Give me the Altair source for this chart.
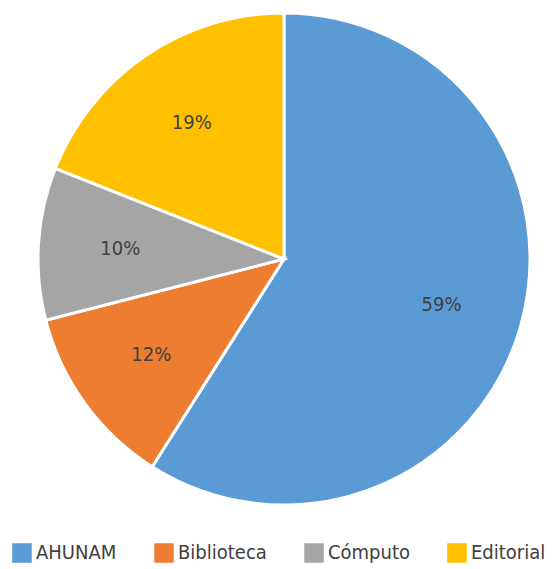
import altair as alt
import pandas as pd

categories = ["AHUNAM", "Biblioteca", "Cómputo", "Editorial"]
values = [59, 12, 10, 19]
labels = ["59%", "12%", "10%", "19%"]
colors = ["#5B9BD5", "#ED7D31", "#A5A5A5", "#FFC000"]

df = pd.DataFrame({"cat": categories, "val": values, "lab": labels,
                   "order": list(range(len(categories)))})

FONT = "DejaVu Sans Condensed, Roboto Condensed, sans-serif"

base = alt.Chart(df).encode(
    theta=alt.Theta("val:Q", stack=True),
    order=alt.Order("order:Q", sort="ascending"),
    x=alt.value(284),
    y=alt.value(259),
)

pie = base.mark_arc(outerRadius=246, stroke="white", strokeWidth=3).encode(
    color=alt.Color(
        "cat:N",
        scale=alt.Scale(domain=categories, range=colors),
        sort=categories,
        legend=alt.Legend(
            title=None,
            orient="none",
            direction="horizontal",
            legendX=12,
            legendY=543,
            symbolType="square",
            symbolSize=380,
            symbolStrokeWidth=0,
            symbolOpacity=1,
            labelFont=FONT,
            labelFontSize=20,
            labelColor="#404040",
            labelOffset=4,
            columnPadding=37,
            labelLimit=300,
        ),
    )
)

text = base.mark_text(radius=164, font=FONT, fontSize=20, color="#404040").encode(
    text="lab:N"
)

chart = (pie + text).properties(
    width=552, height=569, padding=0, autosize=alt.AutoSizeParams(type="none")
).configure_view(stroke=None)

chart.save("out.html", embed_options={"renderer": "svg", "actions": False})
